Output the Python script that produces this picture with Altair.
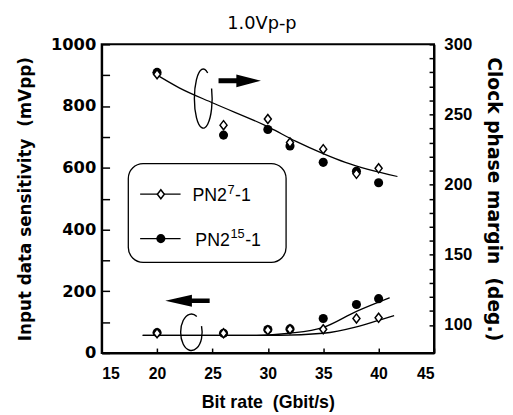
import altair as alt
import pandas as pd

# ---------------- data ----------------
bit_rate = [20, 26, 30, 32, 35, 38, 40]

# clock phase margin (deg.)  -> right axis
phase_pn7 = [278.7, 242.4, 246.8, 230.0, 225.3, 207.7, 211.6]
phase_pn15 = [280.0, 235.3, 239.3, 227.6, 215.9, 209.5, 201.4]

# input data sensitivity (mVpp) -> left axis
sens_pn7 = [64, 64, 74, 77, 77, 112, 114]
sens_pn15 = [66, 64, 76, 78, 112, 157, 176]

# fitted curves
phase_fit_x = [19.6, 22, 25.1, 30.2, 32.5, 35.1, 37, 41.7]
phase_fit_y = [280, 269, 258, 240.5, 231, 221.8, 215.9, 205.8]
sens_fit15_x = [18.7, 29, 32, 35, 38, 40, 41]
sens_fit15_y = [57, 57, 64, 83, 135, 165, 179]
sens_fit7_x = [18.7, 31, 35, 38, 40, 41.4]
sens_fit7_y = [57, 57, 64, 85, 106, 121]

legend_base = "PN2"
legend_sup = ["7", "15"]
legend_tail = "-1"
x_ticks = [15, 20, 25, 30, 35, 40, 45]
left_ticks = list(range(0, 1001, 100))
right_ticks = list(range(100, 301, 10))

X_DOMAIN = [15, 45]
L_DOMAIN = [0, 1000]
R_DOMAIN = [80, 300]

W, H = 337, 313

# ---------------- tables ----------------
pts = pd.DataFrame({
    "x": bit_rate,
    "phase7": phase_pn7, "phase15": phase_pn15,
    "sens7": sens_pn7, "sens15": sens_pn15,
})
phase_fit = pd.DataFrame({"x": phase_fit_x, "y": phase_fit_y})
fit15 = pd.DataFrame({"x": sens_fit15_x, "y": sens_fit15_y})
fit7 = pd.DataFrame({"x": sens_fit7_x, "y": sens_fit7_y})
one = pd.DataFrame({"k": [0]})

XSCALE = alt.Scale(domain=X_DOMAIN, nice=False, zero=False)
LSCALE = alt.Scale(domain=L_DOMAIN, nice=False, zero=False)
RSCALE = alt.Scale(domain=R_DOMAIN, nice=False, zero=False)

LABELLED = dict(grid=False, ticks=False, domainWidth=2, domainColor="black",
                labelColor="black", titleColor="black")

x_axis = alt.Axis(
    title="Bit rate\u00a0\u00a0(Gbit/s)", values=x_ticks, format="d", orient="bottom",
    labelPadding=13,
    labelFont="Liberation Sans", labelFontSize=16, labelFontWeight="bold",
    titleFont="Liberation Sans", titleFontSize=18, titleFontWeight="bold",
    titlePadding=12, **LABELLED,
)
left_axis = alt.Axis(
    title="Input data sensitivity\u00a0\u00a0(mVpp)", values=left_ticks, format="d",
    orient="left", labelExpr="datum.value % 200 == 0 ? datum.label : ''", labelPadding=6,
    labelFont="DejaVu Sans", labelFontSize=16.5, labelFontWeight="bold",
    titleFont="DejaVu Sans", titleFontSize=17, titleFontWeight="bold",
    titlePadding=16, **LABELLED,
)
right_axis = alt.Axis(
    title="Clock phase margin\u00a0\u00a0(deg.)", values=right_ticks, orient="right",
    format="d", labelExpr="datum.value % 50 == 0 ? datum.label : ''", labelPadding=10,
    labelFont="Liberation Sans", labelFontSize=17, labelFontWeight="bold",
    titleFont="DejaVu Sans", titleFontSize=19, titleFontWeight="bold",
    titlePadding=12, **LABELLED,
)

# tick-only axes, placed on the opposite edge so their ticks point into the frame
def tick_axis(values, orient, offset, size):
    return alt.Axis(values=values, orient=orient, offset=offset, tickSize=size,
                    labels=False, domain=False, grid=False, title="", zindex=1,
                    ticks=True, tickColor="black", tickWidth=1.5)

x_tick_axis = tick_axis(x_ticks, "top", -H, 5)
left_tick_axis = tick_axis(left_ticks, "right", -W, 8)
right_tick_axis = tick_axis(right_ticks, "left", -W, 5)

LINE = dict(color="black", strokeWidth=1.3, interpolate="monotone")
CIRCLE = dict(shape="circle", filled=True, color="black", size=85, opacity=1)
DIAMOND = dict(shape="M 0,-1.1 L 0.85,0 L 0,1.1 L -0.85,0 Z", filled=True,
               fill="white", stroke="black", strokeWidth=1.5, size=70, opacity=1)

# ---------------- layers ----------------
l_fit15 = alt.Chart(fit15).mark_line(**LINE).encode(
    x=alt.X("x:Q", scale=XSCALE, axis=x_axis),
    y=alt.Y("y:Q", scale=LSCALE, axis=left_axis),
)
r_fit = alt.Chart(phase_fit).mark_line(**LINE).encode(
    x=alt.X("x:Q", scale=XSCALE, axis=x_tick_axis),
    y=alt.Y("y:Q", scale=RSCALE, axis=right_axis),
)
l_fit7 = alt.Chart(fit7).mark_line(**LINE).encode(
    x=alt.X("x:Q", scale=XSCALE, axis=None),
    y=alt.Y("y:Q", scale=LSCALE, axis=None),
)
l_c = alt.Chart(pts).mark_point(**CIRCLE).encode(
    x=alt.X("x:Q", scale=XSCALE, axis=None),
    y=alt.Y("sens15:Q", scale=LSCALE, axis=left_tick_axis),
)
l_d = alt.Chart(pts).mark_point(**DIAMOND).encode(
    x=alt.X("x:Q", scale=XSCALE, axis=None),
    y=alt.Y("sens7:Q", scale=LSCALE, axis=None),
)
r_c = alt.Chart(pts).mark_point(**CIRCLE).encode(
    x=alt.X("x:Q", scale=XSCALE, axis=None),
    y=alt.Y("phase15:Q", scale=RSCALE, axis=right_tick_axis),
)
r_d = alt.Chart(pts).mark_point(**DIAMOND).encode(
    x=alt.X("x:Q", scale=XSCALE, axis=None),
    y=alt.Y("phase7:Q", scale=RSCALE, axis=None),
)

# annotations (pixel positions inside the plot area)
def ann_point(px, py, shape, size, filled=True, **kw):
    return alt.Chart(one).mark_point(shape=shape, size=size, filled=filled,
                                     opacity=1, **kw).encode(
        x=alt.value(px), y=alt.value(py))

ARROW_R = "M -1,-0.12 L -0.16,-0.12 L -0.16,-0.3 L 1,0 L -0.16,0.3 L -0.16,0.12 L -1,0.12 Z"
ARROW_L = "M 1,-0.1 L 0.2,-0.1 L 0.2,-0.27 L -1,0 L 0.2,0.27 L 0.2,0.1 L 1,0.1 Z"
ELL_TOP = "M 0.15,-0.866 A 0.3,1 0 1,0 0.282,-0.342"
ELL_BOT = "M 0.295,-0.866 A 0.59,1 0 1,0 0.554,-0.342"

annotations = [
    ann_point(140, 37, ARROW_R, 1849, color="black"),
    ann_point(87, 260, ARROW_L, 2025, color="black"),
    ann_point(103, 55, ELL_TOP, 3600, filled=False, stroke="black", strokeWidth=1.4),
    ann_point(91, 292, ELL_BOT, 1369, filled=False, stroke="black", strokeWidth=1.4),
]

legend_box = alt.Chart(one).mark_rect(
    cornerRadius=15, fill="white", stroke="black", strokeWidth=1.3
).encode(x=alt.value(27), x2=alt.value(187), y=alt.value(121), y2=alt.value(221))

legend_parts = [legend_box]
FS = 18
for i, (py, tx, style) in enumerate([(152, 92, DIAMOND), (197, 95, CIRCLE)]):
    legend_parts.append(
        alt.Chart(one).mark_rule(color="black", strokeWidth=1.3).encode(
            x=alt.value(39), x2=alt.value(80), y=alt.value(py)))
    legend_parts.append(
        alt.Chart(one).mark_point(**style).encode(x=alt.value(60), y=alt.value(py)))
    base_w = 1.945 * FS
    sup_w = 0.556 * 13 * len(legend_sup[i])
    legend_parts.append(
        alt.Chart(one).mark_text(align="left", baseline="alphabetic", font="Liberation Sans",
                                 fontSize=FS, color="black").encode(
            x=alt.value(tx), y=alt.value(py + 7), text=alt.value(legend_base)))
    legend_parts.append(
        alt.Chart(one).mark_text(align="left", baseline="alphabetic", font="Liberation Sans",
                                 fontSize=13, color="black").encode(
            x=alt.value(tx + base_w + 0.5), y=alt.value(py - 0.5),
            text=alt.value(legend_sup[i])))
    legend_parts.append(
        alt.Chart(one).mark_text(align="left", baseline="alphabetic", font="Liberation Sans",
                                 fontSize=FS, color="black").encode(
            x=alt.value(tx + base_w + sup_w + 1), y=alt.value(py + 7),
            text=alt.value(legend_tail)))

chart = alt.layer(
    l_fit15, r_fit, l_fit7, l_c, l_d, r_c, r_d, *annotations, *legend_parts,
).resolve_scale(x="independent", y="independent").properties(
    width=W, height=H,
    autosize=alt.AutoSizeParams(type="none"),
    padding={"left": 95, "top": 34, "right": 72, "bottom": 58},
    background="white",
    title=alt.TitleParams("1.0Vp-p", font="DejaVu Sans", fontSize=18, frame="group",
                          fontWeight="normal", color="black", dx=-6, dy=11, offset=14),
).configure_view(stroke="black", strokeWidth=2)

chart.save("out.html", embed_options={"renderer": "svg", "actions": False})
